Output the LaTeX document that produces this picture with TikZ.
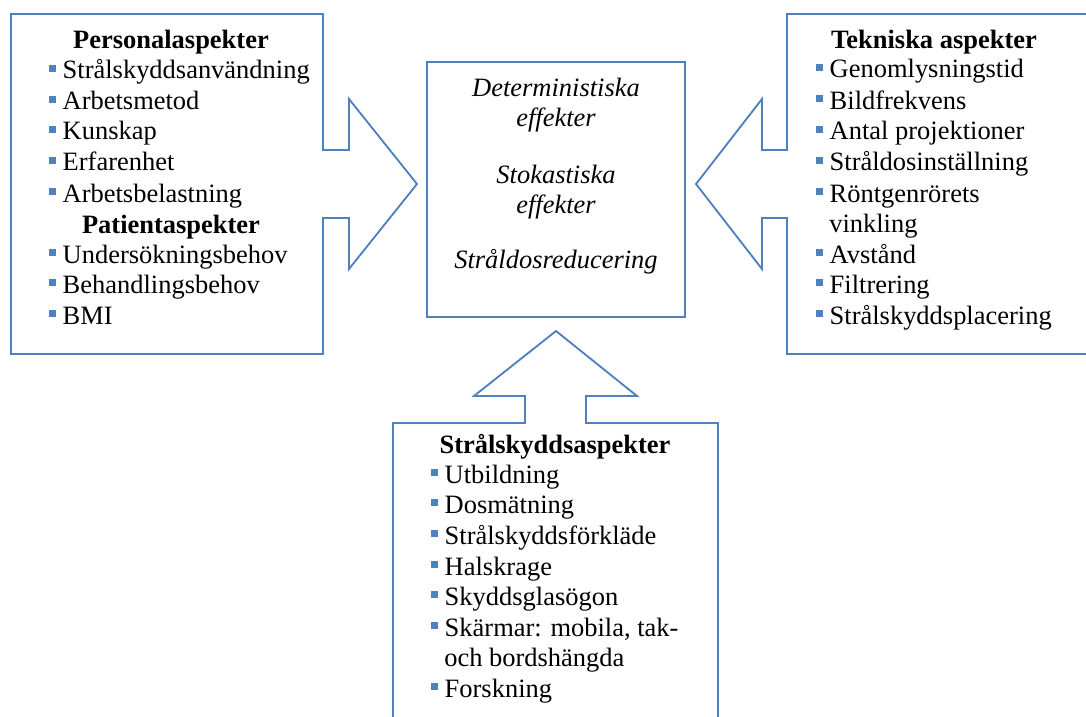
\documentclass[tikz,border=0pt]{standalone}
\usepackage{fontspec}
\setmainfont{LiberationSerif}[Extension=.ttf, UprightFont=*-Regular, BoldFont=*-Bold, ItalicFont=*-Italic, BoldItalicFont=*-BoldItalic]
\definecolor{acc}{HTML}{4F81BD}
\newcommand{\bul}{\textcolor{acc}{\rule[5.4pt]{4.9pt}{4.9pt}}\hspace{5.2pt}}
\tikzset{
  shapeline/.style={draw=acc, line width=1.4pt, line join=miter},
  txt/.style={font=\fontsize{19.85}{23}\selectfont, inner sep=0pt, anchor=base west},
  head/.style={font=\fontsize{19.85}{23}\selectfont\bfseries, inner sep=0pt, anchor=base},
  ctr/.style={font=\fontsize{19.85}{23}\selectfont\itshape, inner sep=0pt, anchor=base},
}
\begin{document}
\begin{tikzpicture}[x=0.75pt, y=-0.75pt]
\useasboundingbox (0,0) rectangle (1086,717);
\clip (0,0) rectangle (1086,717);
% left callout
\draw[shapeline] (11,14) -- (323,14) -- (323,150) -- (349,150) -- (349,99) -- (417,184)
  -- (349,269) -- (349,218) -- (323,218) -- (323,354) -- (11,354) -- cycle;
% right callout
\draw[shapeline] (1100,14) -- (787,14) -- (787,150) -- (762,150) -- (762,99) -- (696,184)
  -- (762,269) -- (762,218) -- (787,218) -- (787,354) -- (1100,354);
% bottom callout
\draw[shapeline] (393,740) -- (393,423) -- (525,423) -- (525,396) -- (474,396) -- (556,331)
  -- (637,396) -- (586,396) -- (586,423) -- (718,423) -- (718,740);
% center box
\node[shapeline, inner sep=0pt, minimum width=193.5pt, minimum height=191.25pt] (mid) at (556,189.5) {};
\node[ctr] (c1) at (556,97) {Deterministiska};
\node[ctr] (c2) at (556,127) {effekter};
\node[ctr] (c3) at (556,183) {Stokastiska};
\node[ctr] (c4) at (556,213) {effekter};
\node[ctr] (c5) at (556,268) {Stråldosreducering};
% left texts
\node[head] (lh1) at (171,49) {Personalaspekter};
\node[head] (lh2) at (171,233) {Patientaspekter};
\foreach [count=\i] \t/\y in {Strålskyddsanvändning/79, Arbetsmetod/110, Kunskap/140,
  Erfarenhet/171, Arbetsbelastning/202, Undersökningsbehov/263, Behandlingsbehov/293, BMI/324}
  {\node[txt] (l\i) at (49,\y) {\bul\t};}
% right texts
\node[head] (rh) at (934,49) {Tekniska aspekter};
\foreach [count=\i] \t/\y in {Genomlysningstid/78, Bildfrekvens/109, Antal projektioner/140,
  Stråldosinställning/171, Röntgenrörets/202, Avstånd/263, Filtrering/293, Strålskyddsplacering/324}
  {\node[txt] (r\i) at (816,\y) {\bul\t};}
\node[txt] (r9) at (829,232) {vinkling};
% bottom texts
\node[head] (bh) at (555,453) {Strålskyddsaspekter};
\foreach [count=\i] \t/\y in {Utbildning/483, Dosmätning/513, Strålskyddsförkläde/544,
  Halskrage/575, Skyddsglasögon/605, {Skärmar: mobila, tak-}/636, Forskning/697}
  {\node[txt] (b\i) at (431,\y) {\bul\t};}
\node[txt] (b8) at (444,666) {och bordshängda};
\end{tikzpicture}
\end{document}
